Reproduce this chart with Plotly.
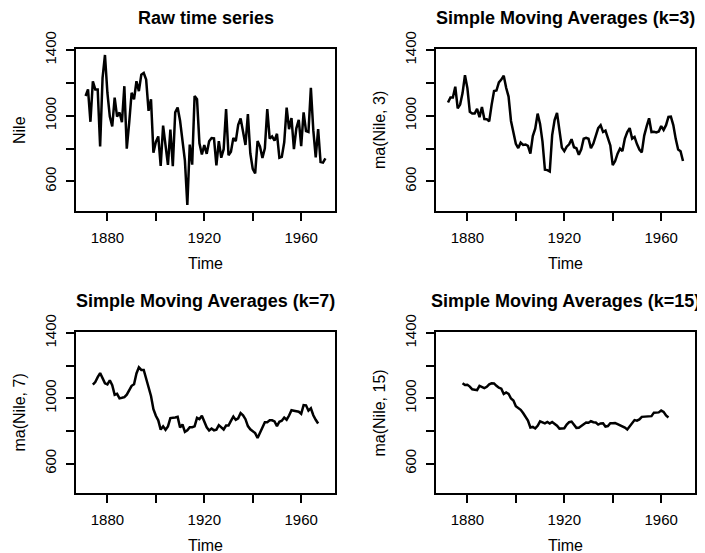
import numpy as np
import plotly.graph_objects as go

# Nile river annual flow, 1871-1970
years = list(range(1871, 1971))
nile = [1120, 1160, 963, 1210, 1160, 1160, 813, 1230, 1370, 1140,
        995, 935, 1110, 994, 1020, 960, 1180, 799, 958, 1140,
        1100, 1210, 1150, 1250, 1260, 1220, 1030, 1100, 774, 840,
        874, 694, 940, 833, 701, 916, 692, 1020, 1050, 969,
        831, 726, 456, 824, 702, 1120, 1100, 832, 764, 821,
        768, 845, 864, 862, 698, 845, 744, 796, 1040, 759,
        781, 865, 845, 944, 984, 897, 822, 1010, 771, 676,
        649, 846, 812, 742, 801, 1040, 860, 874, 848, 890,
        744, 749, 838, 1050, 918, 986, 797, 923, 975, 815,
        1020, 906, 901, 1170, 912, 746, 919, 718, 714, 740]

orders = [3, 7, 15]
titles = ["Raw time series", "Simple Moving Averages (k=3)",
          "Simple Moving Averages (k=7)", "Simple Moving Averages (k=15)"]
ylabels = ["Nile", "ma(Nile, 3)", "ma(Nile, 7)", "ma(Nile, 15)"]
xtick_vals = [1880, 1900, 1920, 1940, 1960]
xtick_text = ["1880", "", "1920", "", "1960"]
ytick_vals = [600, 800, 1000, 1200, 1400]
ytick_text = ["600", "", "1000", "", "1400"]


def centered_ma(x, k):
    x = np.asarray(x, dtype=float)
    h = k // 2
    out = [None] * len(x)
    for i in range(h, len(x) - h):
        out[i] = float(x[i - h:i + h + 1].mean())
    return out


series = [nile] + [centered_ma(nile, k) for k in orders]

# the page body has an 8px margin, so the figure is drawn 8px smaller
OFF = 8
W, H = 705 - OFF, 553 - OFF
boxes = [  # left, right, top, bottom in window pixels
    (76, 335, 49, 211),
    (436, 695, 49, 211),
    (76, 335, 332, 493),
    (436, 695, 332, 493),
]


def px(v):
    return (v - OFF) / W


def py(v):
    return 1 - (v - OFF) / H


FONT = "Liberation Sans, Arial, Helvetica, sans-serif"
fig = go.Figure()
annotations = []
xr = [1871 - 0.04 * 99, 1970 + 0.04 * 99]
yr = [456 - 0.04 * 914, 1370 + 0.04 * 914]

for i, (s, (l, r, t, b)) in enumerate(zip(series, boxes)):
    n = i + 1
    xa = "x" if n == 1 else f"x{n}"
    ya = "y" if n == 1 else f"y{n}"
    fig.add_trace(go.Scatter(x=years, y=s, mode="lines",
                             line=dict(color="black", width=2.5),
                             connectgaps=False, xaxis=xa, yaxis=ya,
                             showlegend=False))
    axcommon = dict(showline=True, mirror=True, linecolor="black", linewidth=2,
                    ticks="outside", ticklen=8, tickwidth=2, tickcolor="black",
                    showgrid=False, zeroline=False, automargin=False,
                    tickfont=dict(family=FONT, size=15, color="black"))
    fig.layout[("xaxis" if n == 1 else f"xaxis{n}")] = dict(
        domain=[px(l), px(r)], anchor=ya, range=xr,
        tickmode="array", tickvals=xtick_vals, ticktext=xtick_text,
        ticklabelstandoff=4, **axcommon)
    fig.layout[("yaxis" if n == 1 else f"yaxis{n}")] = dict(
        domain=[py(b), py(t)], anchor=xa, range=yr,
        tickmode="array", tickvals=ytick_vals, ticktext=ytick_text,
        tickangle=-90, ticklabelstandoff=4, **axcommon)
    cx = (l + r) / 2
    annotations.append(dict(text=f"<b>{titles[i]}</b>", x=px(cx), y=py(t - 31),
                            xref="paper", yref="paper", showarrow=False,
                            xanchor="center", yanchor="middle",
                            font=dict(family=FONT, size=18, color="black")))
    annotations.append(dict(text="Time", x=px(cx), y=py(b + 52),
                            xref="paper", yref="paper", showarrow=False,
                            xanchor="center", yanchor="middle",
                            font=dict(family=FONT, size=16, color="black")))
    annotations.append(dict(text=ylabels[i], x=px(l - 57), y=py((t + b) / 2),
                            xref="paper", yref="paper", showarrow=False,
                            xanchor="center", yanchor="middle", textangle=-90,
                            font=dict(family=FONT, size=16, color="black")))

fig.update_layout(width=W, height=H, margin=dict(l=0, r=0, t=0, b=0, autoexpand=False),
                  paper_bgcolor="white", plot_bgcolor="white",
                  annotations=annotations, showlegend=False)
fig.write_html("out.html")
